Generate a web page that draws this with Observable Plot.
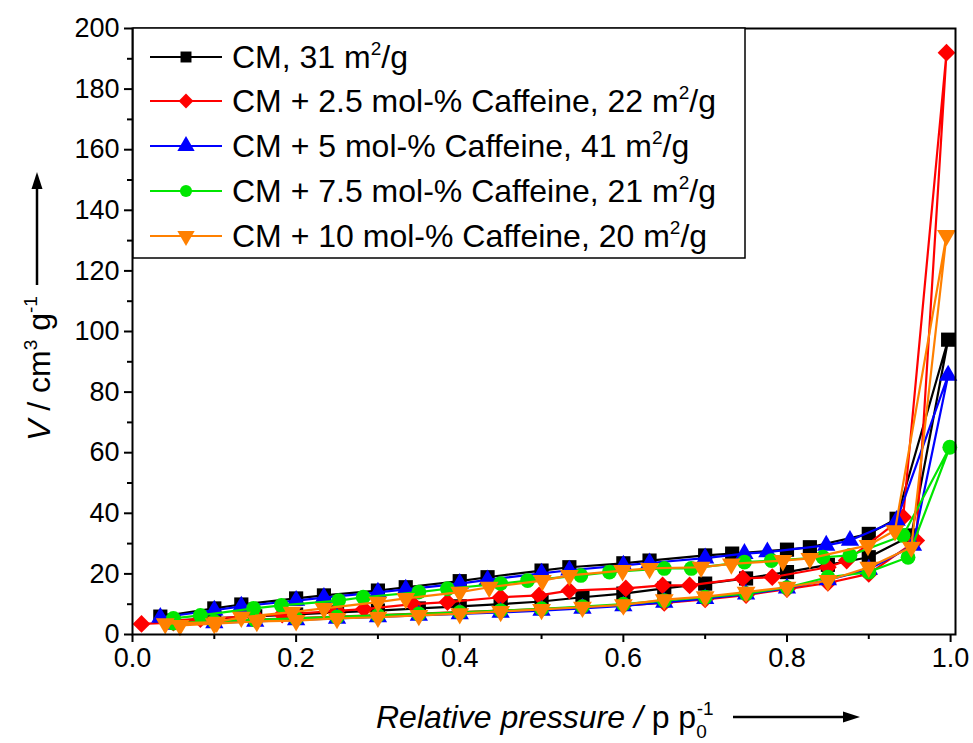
<!DOCTYPE html>
<html>
<head>
<meta charset="utf-8">
<script src="https://cdn.jsdelivr.net/npm/d3@7"></script>
<script src="https://cdn.jsdelivr.net/npm/@observablehq/plot@0.6"></script>
<style>
  html, body { margin: 0; padding: 0; background: white; }
  #chart { position: relative; width: 973px; height: 743px; }
</style>
</head>
<body>
<div id="chart"></div>
<script>
// ---------- data ----------
const seriesNames = [
  "CM, 31 m²/g",
  "CM + 2.5 mol-% Caffeine, 22 m²/g",
  "CM + 5 mol-% Caffeine, 41 m²/g",
  "CM + 7.5 mol-% Caffeine, 21 m²/g",
  "CM + 10 mol-% Caffeine, 20 m²/g"
];
const legendMain = ["CM, 31 m", "CM + 2.5 mol-% Caffeine, 22 m", "CM + 5 mol-% Caffeine, 41 m", "CM + 7.5 mol-% Caffeine, 21 m", "CM + 10 mol-% Caffeine, 20 m"];
const seriesColors = ["#000000", "#ff0000", "#0000ff", "#00e600", "#ff8000"];

// CM
const cmAdsP = [0.05,0.10,0.15,0.20,0.25,0.30,0.35,0.40,0.45,0.50,0.55,0.60,0.65,0.70,0.75,0.80,0.85,0.90,0.952,0.997];
const cmAdsV = [4.6,5.3,6.0,6.6,7.3,7.9,8.6,9.3,10.0,10.9,12.3,13.5,15.2,16.8,18.5,20.6,23.0,25.5,32.7,97.3];
const cmDesP = [0.934,0.90,0.828,0.80,0.733,0.70,0.632,0.60,0.534,0.50,0.434,0.40,0.334,0.30,0.234,0.20,0.133,0.10,0.034];
const cmDesV = [38.2,33.2,28.8,28.0,26.7,26.1,24.4,23.5,22.2,21.1,18.9,17.6,15.6,14.5,12.9,11.9,9.9,8.6,5.9];

// CM + 2.5 mol-% Caffeine
const c25AdsP = [0.011,0.05,0.10,0.15,0.20,0.25,0.30,0.35,0.40,0.45,0.50,0.55,0.60,0.65,0.70,0.75,0.80,0.85,0.90,0.958,0.995];
const c25AdsV = [3.5,3.9,4.4,4.9,5.4,5.9,6.4,6.9,7.4,7.9,8.4,9.0,9.6,10.4,11.6,13.0,15.0,17.0,20.0,31.0,192];
const c25DesP = [0.942,0.873,0.85,0.782,0.746,0.681,0.648,0.603,0.534,0.497,0.45,0.385,0.343,0.283,0.25,0.183,0.15,0.083,0.05];
const c25DesV = [38.7,24.4,22.2,18.9,18.5,16.2,16.2,15.2,14.5,12.9,12.3,10.7,10.0,8.4,7.8,6.6,6.1,5.1,4.6];

// CM + 5 mol-% Caffeine
const c5AdsP = [0.05,0.10,0.15,0.20,0.25,0.30,0.35,0.40,0.45,0.50,0.55,0.60,0.65,0.70,0.75,0.80,0.85,0.90,0.954,0.997];
const c5AdsV = [3.3,3.8,4.3,4.8,5.3,5.8,6.3,6.8,7.3,7.9,8.6,9.4,10.6,11.8,13.3,15.3,18.0,21.5,29.4,85.5];
const c5DesP = [0.934,0.877,0.848,0.776,0.748,0.70,0.632,0.60,0.534,0.50,0.434,0.40,0.334,0.30,0.234,0.20,0.133,0.10,0.034];
const c5DesV = [37.6,31.0,29.4,27.2,26.7,25.2,23.6,22.8,21.2,20.2,18.0,16.8,14.9,13.9,12.2,11.2,9.3,8.0,5.6];

// CM + 7.5 mol-% Caffeine
const c75AdsP = [0.05,0.10,0.15,0.20,0.25,0.30,0.35,0.40,0.45,0.50,0.55,0.60,0.65,0.70,0.75,0.80,0.85,0.90,0.948,0.999];
const c75AdsV = [3.8,4.3,4.8,5.3,5.8,6.3,6.8,7.3,7.9,8.5,9.2,10.0,11.2,12.3,13.5,15.5,18.9,20.6,25.5,61.8];
const c75DesP = [0.942,0.877,0.844,0.781,0.748,0.683,0.65,0.583,0.548,0.483,0.45,0.385,0.35,0.282,0.252,0.182,0.148,0.083,0.05];
const c75DesV = [32.7,26.1,25.5,24.4,23.9,21.8,21.8,20.6,19.5,17.8,16.8,15.1,14.0,12.3,11.2,9.6,8.6,6.3,5.3];

// CM + 10 mol-% Caffeine
const c10AdsP = [0.058,0.10,0.152,0.20,0.25,0.30,0.35,0.40,0.45,0.50,0.55,0.60,0.65,0.70,0.75,0.80,0.85,0.90,0.952,0.995];
const c10AdsV = [3.0,3.6,4.3,4.6,5.3,5.7,6.3,6.9,7.6,8.3,9.0,9.8,11.5,12.5,14.0,15.6,17.8,22.2,28.8,131.7];
const c10DesP = [0.932,0.899,0.828,0.795,0.732,0.695,0.632,0.599,0.534,0.501,0.436,0.40,0.334,0.30,0.234,0.195,0.133,0.103,0.04];
const c10DesV = [34.3,29.4,25.1,24.4,23.3,22.2,21.8,21.1,19.5,17.8,15.6,14.0,11.9,10.7,8.6,7.4,5.7,4.1,3.6];

const xMajorTicks = [0, 0.2, 0.4, 0.6, 0.8, 1.0];
const xMinorTicks = [0.1, 0.3, 0.5, 0.7, 0.9];
const yMajorTicks = [0, 20, 40, 60, 80, 100, 120, 140, 160, 180, 200];
const yMinorTicks = [10, 30, 50, 70, 90, 110, 130, 150, 170, 190];

// ---------- build tables ----------
const branches = [
  [cmAdsP, cmAdsV, cmDesP, cmDesV],
  [c25AdsP, c25AdsV, c25DesP, c25DesV],
  [c5AdsP, c5AdsV, c5DesP, c5DesV],
  [c75AdsP, c75AdsV, c75DesP, c75DesV],
  [c10AdsP, c10AdsV, c10DesP, c10DesV]
];
const tables = branches.map(([ap, av, dp, dv], i) => {
  const rows = [];
  ap.forEach((p, j) => rows.push({p, v: av[j], s: seriesNames[i]}));
  dp.forEach((p, j) => rows.push({p, v: dv[j], s: seriesNames[i]}));
  return rows;
});

const sqrt3 = Math.sqrt(3);
const triangleDown = {
  draw(context, size) {
    const y = -Math.sqrt(size / (sqrt3 * 3));
    context.moveTo(0, -y * 2);
    context.lineTo(-sqrt3 * y, y);
    context.lineTo(sqrt3 * y, y);
    context.closePath();
  }
};
const symbols = ["square", "diamond2", "triangle", "circle", triangleDown];
const radii = [8.0, 8.0, 6.8, 7.4, 7.0];

const FONT = "'Liberation Sans', Arial, sans-serif";

const marks = [];
tables.forEach((rows, i) => {
  marks.push(Plot.line(rows, {x: "p", y: "v", stroke: seriesColors[i], strokeWidth: 2.2}));
  marks.push(Plot.dot(rows, {x: "p", y: "v", fill: seriesColors[i], symbol: symbols[i], r: radii[i], stroke: null}));
});

const chart = Plot.plot({
  width: 973,
  height: 743,
  marginLeft: 132,
  marginRight: 18,
  marginTop: 28,
  marginBottom: 109,
  x: {domain: [0, 1.006]},
  y: {domain: [0, 200]},
  style: {fontFamily: FONT, fontSize: "27px", color: "black", background: "white"},
  marks: [
    ...marks,
    Plot.frame({stroke: "black", strokeWidth: 2}),
    Plot.axisX({ticks: xMajorTicks, tickFormat: d3.format(".1f"), tickSize: 8, tickPadding: 5, strokeWidth: 2, label: null, fontSize: 27}),
    Plot.axisX({ticks: xMinorTicks, tickFormat: () => "", tickSize: 5, strokeWidth: 2, label: null}),
    Plot.axisY({ticks: yMajorTicks, tickFormat: d3.format("d"), tickSize: 8, tickPadding: 5, strokeWidth: 2, label: null, fontSize: 27}),
    Plot.axisY({ticks: yMinorTicks, tickFormat: () => "", tickSize: 5, strokeWidth: 2, label: null})
  ]
});
document.getElementById("chart").appendChild(chart);

// ---------- annotations: legend and axis titles ----------
const svg = d3.select(chart);

// Legend
const lg = svg.append("g").attr("font-family", FONT).attr("text-anchor", "start");
lg.append("rect").attr("x", 133).attr("y", 28).attr("width", 612).attr("height", 230)
  .attr("fill", "white").attr("stroke", "black").attr("stroke-width", 1.5);
const rowY = [57, 101, 146, 191, 236];
const legendSym = [d3.symbolSquare, d3.symbolDiamond2, d3.symbolTriangle, d3.symbolCircle, triangleDown];
const legendSize = [120, 140, 130, 115, 130];
seriesNames.forEach((name, i) => {
  const y = rowY[i];
  lg.append("line").attr("x1", 150).attr("x2", 222).attr("y1", y).attr("y2", y)
    .attr("stroke", seriesColors[i]).attr("stroke-width", 2);
  lg.append("path").attr("d", d3.symbol(legendSym[i], legendSize[i])())
    .attr("transform", `translate(186,${y})`).attr("fill", seriesColors[i]);
  const t = lg.append("text").attr("x", 232).attr("y", y + 11).attr("font-size", 32).attr("fill", "black");
  t.append("tspan").text(legendMain[i]);
  t.append("tspan").attr("dy", -13).attr("font-size", 19).text("2");
  t.append("tspan").attr("dy", 13).text("/g");
});

// Y axis title (rotated)
const yt = svg.append("text").attr("font-family", FONT).attr("font-size", 32).attr("text-anchor", "start")
  .attr("transform", "translate(50,441) rotate(-90)").attr("fill", "black");
yt.append("tspan").attr("font-style", "italic").text("V");
yt.append("tspan").text(" / cm");
yt.append("tspan").attr("dy", -13).attr("font-size", 19).text("3");
yt.append("tspan").attr("dy", 13).text(" g");
yt.append("tspan").attr("dy", -13).attr("font-size", 19).text("-1");
svg.append("line").attr("x1", 37).attr("x2", 37).attr("y1", 285).attr("y2", 186)
  .attr("stroke", "black").attr("stroke-width", 2.5);
svg.append("path").attr("d", "M37,172 L31.5,189 L42.5,189 Z").attr("fill", "black");

// X axis title
const xt = svg.append("text").attr("font-family", FONT).attr("font-size", 32).attr("text-anchor", "start")
  .attr("x", 376).attr("y", 728).attr("fill", "black");
xt.append("tspan").attr("font-style", "italic").text("Relative pressure / ");
xt.append("tspan").text("p p");
xt.append("tspan").attr("dy", 10).attr("font-size", 19).text("0");
xt.append("tspan").attr("dy", -23).attr("dx", -10).attr("font-size", 19).text("-1");
svg.append("line").attr("x1", 733).attr("x2", 845).attr("y1", 717).attr("y2", 717)
  .attr("stroke", "black").attr("stroke-width", 2.5);
svg.append("path").attr("d", "M860,717 L843,711.5 L843,722.5 Z").attr("fill", "black");
</script>
</body>
</html>
